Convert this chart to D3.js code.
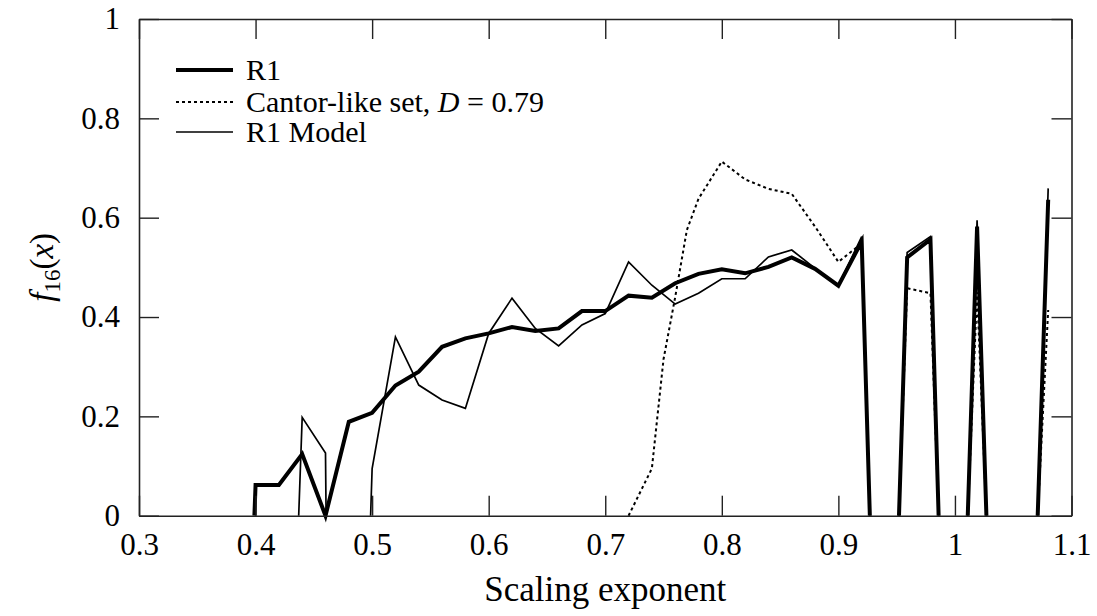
<!DOCTYPE html>
<html>
<head>
<meta charset="utf-8">
<script src="https://cdn.jsdelivr.net/npm/d3@7/dist/d3.min.js"></script>
<style>
  html, body { margin: 0; padding: 0; background: #fff; }
  svg { display: block; }
</style>
</head>
<body>
<svg id="chart" width="1097" height="616"></svg>
<script>
// ---- data ----
const xTicks = [0.3, 0.4, 0.5, 0.6, 0.7, 0.8, 0.9, 1.0, 1.1];
const xTickLabels = ["0.3", "0.4", "0.5", "0.6", "0.7", "0.8", "0.9", "1", "1.1"];
const yTicks = [0, 0.2, 0.4, 0.6, 0.8, 1];
const yTickLabels = ["0", "0.2", "0.4", "0.6", "0.8", "1"];

// null = gap (values below the plotted range are not drawn)
const r1X = [0.399, 0.40, 0.42, 0.44, 0.46, 0.48, 0.50, 0.52, 0.54, 0.56, 0.58, 0.60, 0.62, 0.64, 0.66, 0.68, 0.70, 0.72, 0.74, 0.76, 0.78, 0.80, 0.82, 0.84, 0.86, 0.88, 0.90, 0.92, 0.927, null, 0.952, 0.959, 0.979, 0.986, null, 1.011, 1.019, 1.027, null, 1.071, 1.08];
const r1Y = [0, 0.062, 0.062, 0.124, 0, 0.189, 0.207, 0.262, 0.29, 0.34, 0.357, 0.367, 0.38, 0.372, 0.377, 0.412, 0.412, 0.443, 0.439, 0.468, 0.487, 0.496, 0.488, 0.501, 0.52, 0.497, 0.463, 0.552, 0, null, 0, 0.52, 0.556, 0, null, 0, 0.582, 0, null, 0, 0.636];

const cantorX = [0.72, 0.74, 0.75, 0.76, 0.77, 0.78, 0.80, 0.82, 0.84, 0.86, 0.88, 0.90, 0.92, 0.927, null, 0.952, 0.959, 0.979, 0.986, null, 1.011, 1.019, 1.027, null, 1.071, 1.08];
const cantorY = [0, 0.095, 0.315, 0.44, 0.575, 0.638, 0.713, 0.677, 0.658, 0.648, 0.582, 0.511, 0.548, 0, null, 0, 0.458, 0.448, 0, null, 0, 0.45, 0, null, 0, 0.414];

const modelX = [0.437, 0.44, 0.46, 0.4605, null, 0.4987, 0.50, 0.52, 0.54, 0.56, 0.58, 0.60, 0.62, 0.64, 0.66, 0.68, 0.70, 0.72, 0.74, 0.76, 0.78, 0.80, 0.82, 0.84, 0.86, 0.88, 0.90, 0.92, 0.927, null, 0.952, 0.959, 0.979, 0.986, null, 1.011, 1.019, 1.027, null, 1.071, 1.08];
const modelY = [0, 0.198, 0.126, 0, null, 0, 0.095, 0.36, 0.263, 0.233, 0.216, 0.367, 0.438, 0.377, 0.342, 0.384, 0.407, 0.511, 0.464, 0.426, 0.448, 0.477, 0.477, 0.521, 0.535, 0.498, 0.463, 0.562, 0, null, 0, 0.53, 0.562, 0, null, 0, 0.595, 0, null, 0, 0.659];

const legendLabels = ["R1", "Cantor-like set, D = 0.79", "R1 Model"];

// ---- layout ----
const FONT = '"Liberation Serif", Tinos, "Times New Roman", Times, "DejaVu Serif", serif';
const W = 1097, H = 616;
const margin = { left: 139, top: 19, right: 25.5, bottom: 100.3 };
const svg = d3.select("#chart");
const x = d3.scaleLinear().domain([0.3, 1.1]).range([margin.left, W - margin.right]);
const y = d3.scaleLinear().domain([0, 1]).range([H - margin.bottom, margin.top]);

const styles = [
  { width: 4, dash: null },
  { width: 2, dash: "3,3" },
  { width: 1.7, dash: null }
];
const series = [
  { xs: r1X, ys: r1Y, st: styles[0] },
  { xs: cantorX, ys: cantorY, st: styles[1] },
  { xs: modelX, ys: modelY, st: styles[2] }
];

const line = d3.line()
  .defined(d => d[0] !== null && d[1] !== null)
  .x(d => x(d[0])).y(d => y(d[1]));

[1, 0, 2].forEach(i => {
  const s = series[i];
  svg.append("path")
    .datum(s.xs.map((v, k) => [v, s.ys[k]]))
    .attr("d", line)
    .attr("fill", "none")
    .attr("stroke", "#000")
    .attr("stroke-width", s.st.width)
    .attr("stroke-linejoin", "miter")
    .attr("stroke-dasharray", s.st.dash);
});

// frame + axes
const fontTick = 31;
const tickLen = 20;
const gx = svg.append("g").attr("transform", `translate(0,${y(0)})`)
  .call(d3.axisBottom(x).tickValues(xTicks).tickFormat((d, i) => xTickLabels[i])
    .tickSize(-tickLen).tickSizeOuter(0).tickPadding(17));
const gy = svg.append("g").attr("transform", `translate(${x(0.3)},0)`)
  .call(d3.axisLeft(y).tickValues(yTicks).tickFormat((d, i) => yTickLabels[i])
    .tickSize(-tickLen).tickSizeOuter(0).tickPadding(19));
const gt = svg.append("g").attr("transform", `translate(0,${y(1)})`)
  .call(d3.axisTop(x).tickValues(xTicks).tickFormat("").tickSize(-tickLen).tickSizeOuter(0));
const gr = svg.append("g").attr("transform", `translate(${x(1.1)},0)`)
  .call(d3.axisRight(y).tickValues(yTicks).tickFormat("").tickSize(-tickLen).tickSizeOuter(0));

[gx, gy, gt, gr].forEach(g => {
  g.attr("font-family", FONT).attr("font-size", fontTick);
  g.selectAll(".domain").attr("stroke", "#222").attr("stroke-width", 1.6);
  g.selectAll(".tick line").attr("stroke", "#222").attr("stroke-width", 1.4);
  g.selectAll(".tick text").attr("font-family", FONT).attr("font-size", fontTick).attr("fill", "#000");
});

// axis titles
svg.append("text")
  .attr("x", (x(0.3) + x(1.1)) / 2)
  .attr("y", 601)
  .attr("text-anchor", "middle")
  .attr("font-family", FONT)
  .attr("font-size", 35)
  .text("Scaling exponent");

const yl = svg.append("text")
  .attr("transform", `translate(53,${(y(0) + y(1)) / 2}) rotate(-90)`)
  .attr("text-anchor", "middle")
  .attr("font-family", FONT)
  .attr("font-size", 33);
yl.append("tspan").attr("font-style", "italic").text("f");
yl.append("tspan").attr("font-size", 23).attr("dy", 7).text("16");
yl.append("tspan").attr("dy", -7).text("(");
yl.append("tspan").attr("font-style", "italic").text("x");
yl.append("tspan").text(")");

// legend
const legY = [70, 102, 132];
const leg = svg.append("g");
legendLabels.forEach((lab, i) => {
  const st = styles[i];
  leg.append("line")
    .attr("x1", 176).attr("x2", 233)
    .attr("y1", legY[i]).attr("y2", legY[i])
    .attr("stroke", "#000")
    .attr("stroke-width", st.width)
    .attr("stroke-dasharray", st.dash);
  const t = leg.append("text")
    .attr("x", 246).attr("y", legY[i] + 10)
    .attr("font-family", FONT)
    .attr("font-size", 30);
  if (lab.indexOf("D = ") >= 0) {
    const parts = lab.split("D");
    t.append("tspan").text(parts[0]);
    t.append("tspan").attr("font-style", "italic").text("D");
    t.append("tspan").text(parts[1]);
  } else {
    t.text(lab);
  }
});
</script>
</body>
</html>
